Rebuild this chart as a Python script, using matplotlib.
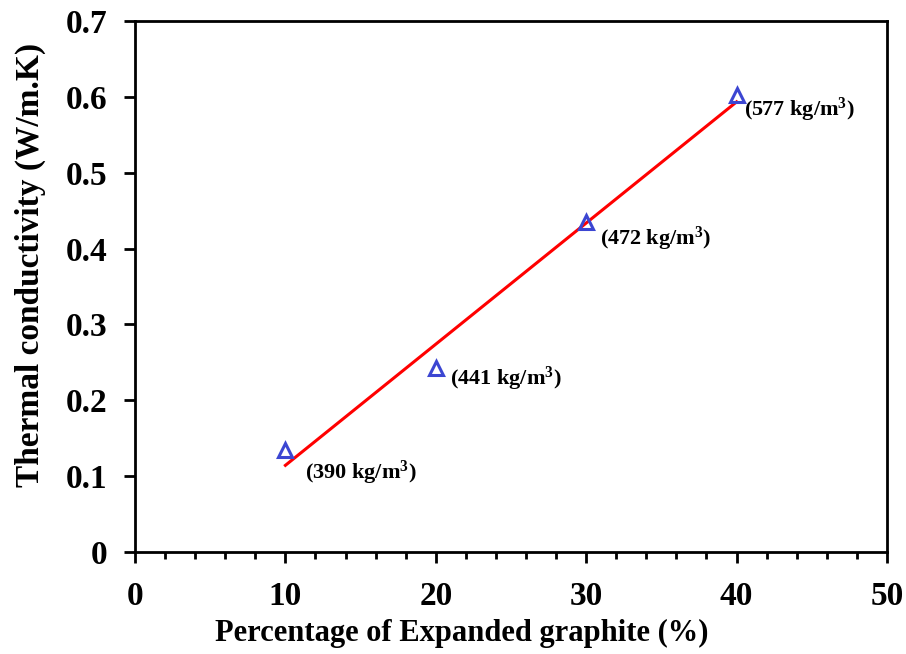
import numpy as np
import matplotlib
matplotlib.use("Agg")
import matplotlib.pyplot as plt
from matplotlib.ticker import MultipleLocator

# Measured data
eg_percent = [10, 20, 30, 40]
conductivity = [0.135, 0.242, 0.435, 0.603]
densities = ["390", "441", "472", "577"]

x_ticks = [0, 10, 20, 30, 40, 50]
y_ticks = [0, 0.1, 0.2, 0.3, 0.4, 0.5, 0.6, 0.7]
y_tick_labels = ["0", "0.1", "0.2", "0.3", "0.4", "0.5", "0.6", "0.7"]

# label placement relative to each point (pixels)
label_offsets = [(20, -23), (14, -11), (14, -17), (7, -15)]

plt.rcParams["font.family"] = ["Liberation Serif", "DejaVu Serif"]
plt.rcParams["font.weight"] = "bold"
plt.rcParams["mathtext.fontset"] = "custom"
plt.rcParams["mathtext.rm"] = "Liberation Serif:bold"
plt.rcParams["mathtext.bf"] = "Liberation Serif:bold"
plt.rcParams["mathtext.default"] = "bf"

fig = plt.figure(figsize=(9.06, 6.54), dpi=100)
ax = fig.add_axes([0.149, 0.156, 0.830, 0.812])

# linear trend line through the measurements
slope, intercept = np.polyfit(eg_percent, conductivity, 1)
xf = np.array([eg_percent[0], eg_percent[-1]])
ax.plot(xf, slope * xf + intercept, color="#ff0000", lw=2.2, zorder=2)

ax.plot(eg_percent, conductivity, linestyle="none", marker="^", markersize=10.5,
        markerfacecolor="none", markeredgecolor="#3c46d2", markeredgewidth=2.2,
        zorder=3)

for x, y, d, off in zip(eg_percent, conductivity, densities, label_offsets):
    ax.annotate(f"({d} kg/m$^{{3}}$)", (x, y), xytext=off,
                textcoords="offset pixels", ha="left", va="center",
                fontsize=16, fontweight="bold")

ax.set_xlim(0, 50)
ax.set_ylim(0, 0.7)
ax.set_xticks(x_ticks)
ax.set_yticks(y_ticks)
ax.set_yticklabels(y_tick_labels)
ax.xaxis.set_minor_locator(MultipleLocator(2))

for s in ax.spines.values():
    s.set_linewidth(2.0)

ax.tick_params(axis="both", which="major", direction="out", length=8, width=2,
               labelsize=24)
ax.tick_params(axis="x", which="major", pad=13)
ax.tick_params(axis="y", which="major", pad=12)
ax.tick_params(axis="x", which="minor", direction="out", length=5, width=2)
ax.tick_params(axis="y", which="minor", left=False)

ax.set_xlabel("Percentage of Expanded graphite (%)", fontsize=22,
              fontweight="bold")
ax.set_ylabel("Thermal conductivity (W/m.K)", fontsize=24, fontweight="bold")
ax.xaxis.set_label_coords(0.434, -0.126)
ax.yaxis.set_label_coords(-0.118, 0.54)

fig.savefig("out.png", dpi=100)
